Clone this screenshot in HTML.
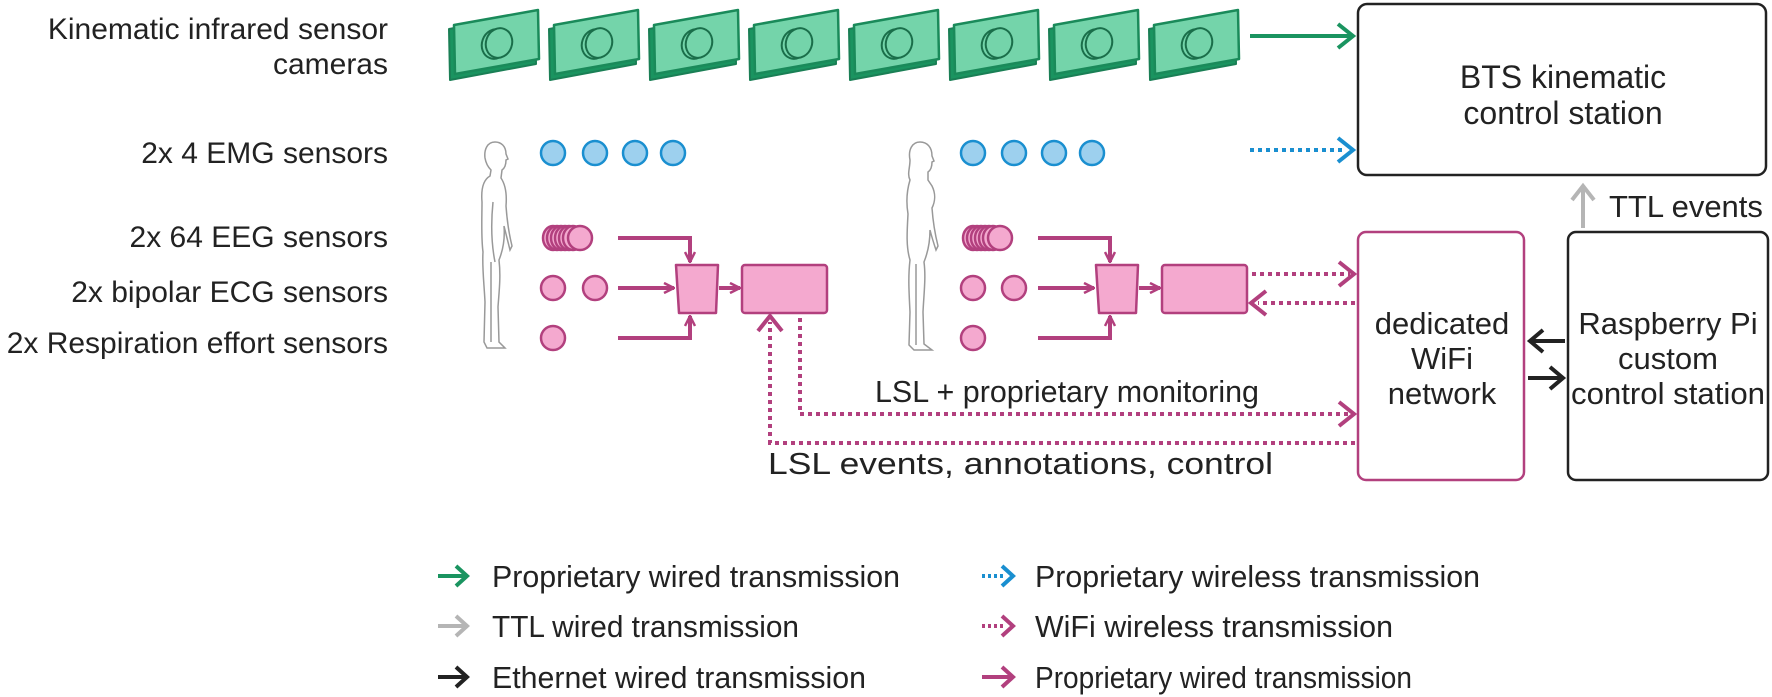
<!DOCTYPE html>
<html><head><meta charset="utf-8"><style>
html,body{margin:0;padding:0;background:#fff;}
svg{display:block;}
text{font-family:"Liberation Sans",Arial,sans-serif;fill:#222;}
</style></head><body>
<svg width="1772" height="697" viewBox="0 0 1772 697" xmlns="http://www.w3.org/2000/svg">
<defs>
<g id="cam">
  <path d="M1,29 L87,13 L88,64 L2,80 Z" fill="#1a9460" stroke="#1a7f55" stroke-width="2" stroke-linejoin="round"/>
  <path d="M6,25 L90,10 L91,59 L7,74 Z" fill="#74d4aa" stroke="#1a8a5a" stroke-width="2.5" stroke-linejoin="round"/>
  <ellipse cx="47" cy="44" rx="13" ry="15" fill="#74d4aa" stroke="#1a6e4a" stroke-width="2" transform="rotate(20 47 44)"/>
  <ellipse cx="51" cy="43" rx="13" ry="15" fill="#74d4aa" stroke="#1a6e4a" stroke-width="2" transform="rotate(20 51 43)"/>
</g>
<g id="man" fill="none" stroke="#999" stroke-width="1.5">
  <path d="M18,0 C10,0 7,8 8,16 C9,22 12,26 14,28 L13,34 C6,38 4,48 5,60 C5,75 4,95 6,110 C5,125 7,140 8,160 L7,200 L10,206 L28,206 L22,200 L21,165 C22,150 24,135 22,118 C26,108 28,96 27,84 C29,92 31,100 33,108 L35,104 C32,92 30,78 29,64 C30,52 28,42 24,36 L25,28 C28,26 29,22 29,18 L31,17 L29,12 C29,4 24,0 18,0 Z"/>
  <path d="M14,120 L14,200 M16,60 C14,80 14,100 18,120"/>
</g>
<g id="woman" fill="none" stroke="#999" stroke-width="1.5">
  <path d="M18,0 C10,0 6,8 8,18 C8,26 5,32 8,38 C5,48 4,60 6,72 C5,90 4,105 8,118 C6,135 7,150 8,170 L7,203 L12,208 L30,208 L22,202 L21,170 C22,150 24,135 22,120 C26,110 28,98 28,88 C30,96 32,102 34,108 L36,104 C33,92 31,80 30,66 C33,60 34,52 30,44 L26,38 L26,30 C29,28 30,24 30,20 L32,19 L30,14 C30,5 25,0 18,0 Z"/>
  <path d="M14,122 L14,203"/>
</g>
<marker id="ap" viewBox="0 0 12 12" refX="11" refY="6" markerWidth="12" markerHeight="12" markerUnits="userSpaceOnUse" orient="auto"><path d="M1,1 L11,6 L1,11" fill="none" stroke="#b2407e" stroke-width="2.5"/></marker>
</defs>

<!-- left labels -->
<g font-size="30" text-anchor="end">
<text x="388" y="39">Kinematic infrared sensor</text>
<text x="388" y="74">cameras</text>
<text x="388" y="163">2x 4 EMG sensors</text>
<text x="388" y="247">2x 64 EEG sensors</text>
<text x="388" y="302">2x bipolar ECG sensors</text>
<text x="388" y="353">2x Respiration effort sensors</text>
</g>

<!-- cameras -->
<use href="#cam" x="448" y="0"/><use href="#cam" x="548" y="0"/><use href="#cam" x="648" y="0"/><use href="#cam" x="748" y="0"/>
<use href="#cam" x="848" y="0"/><use href="#cam" x="948" y="0"/><use href="#cam" x="1048" y="0"/><use href="#cam" x="1148" y="0"/>

<!-- green arrow -->
<line x1="1250" y1="36" x2="1352" y2="36" stroke="#1a9460" stroke-width="4"/>
<path d="M1338,24 L1353,36 L1338,48" fill="none" stroke="#1a9460" stroke-width="4"/>
<!-- blue dotted -->
<line x1="1250" y1="150" x2="1345" y2="150" stroke="#1a8fd0" stroke-width="4" stroke-dasharray="4,4"/>
<path d="M1338,138 L1353,150 L1338,162" fill="none" stroke="#1a8fd0" stroke-width="4"/>

<!-- BTS box -->
<rect x="1358" y="4" width="408" height="171" rx="9" fill="#fff" stroke="#222" stroke-width="2.5"/>
<text x="1563" y="88" font-size="32" text-anchor="middle">BTS kinematic</text>
<text x="1563" y="124" font-size="32" text-anchor="middle">control station</text>

<!-- TTL -->
<line x1="1583" y1="228" x2="1583" y2="188" stroke="#b5b5b5" stroke-width="4"/>
<path d="M1572,200 L1583,186 L1594,200" fill="none" stroke="#b5b5b5" stroke-width="4"/>
<text x="1609" y="217" font-size="31">TTL events</text>

<!-- WiFi box -->
<rect x="1358" y="232" width="166" height="248" rx="8" fill="#fff" stroke="#b2407e" stroke-width="2.5"/>
<g font-size="31" text-anchor="middle">
<text x="1442" y="334">dedicated</text><text x="1442" y="369">WiFi</text><text x="1442" y="404">network</text>
</g>
<!-- Raspberry -->
<rect x="1568" y="232" width="200" height="248" rx="8" fill="#fff" stroke="#222" stroke-width="2.5"/>
<g font-size="31" text-anchor="middle">
<text x="1668" y="334">Raspberry Pi</text><text x="1668" y="369">custom</text><text x="1668" y="404" textLength="194" lengthAdjust="spacingAndGlyphs">control station</text>
</g>
<!-- ethernet arrows -->
<line x1="1531" y1="341" x2="1565" y2="341" stroke="#222" stroke-width="4"/>
<path d="M1543,330 L1530,341 L1543,352" fill="none" stroke="#222" stroke-width="4"/>
<line x1="1528" y1="378" x2="1562" y2="378" stroke="#222" stroke-width="4"/>
<path d="M1550,367 L1563,378 L1550,389" fill="none" stroke="#222" stroke-width="4"/>

<!-- persons -->
<use href="#man" x="477" y="142"/>
<use href="#woman" x="902" y="142"/>

<!-- sensor dots -->
<g fill="#9dd0ee" stroke="#1a8fd0" stroke-width="2.5">
<circle cx="553" cy="153" r="12"/><circle cx="595" cy="153" r="12"/><circle cx="635" cy="153" r="12"/><circle cx="673" cy="153" r="12"/>
<circle cx="973" cy="153" r="12"/><circle cx="1014" cy="153" r="12"/><circle cx="1054" cy="153" r="12"/><circle cx="1092" cy="153" r="12"/>
</g>
<g fill="#f4a9cf" stroke="#b2407e" stroke-width="2.5">
<g id="pill1">
<ellipse cx="553" cy="238" rx="10" ry="12"/><ellipse cx="557" cy="238" rx="10" ry="12"/><ellipse cx="561" cy="238" rx="10" ry="12"/><ellipse cx="565" cy="238" rx="10" ry="12"/><ellipse cx="569" cy="238" rx="10" ry="12"/><ellipse cx="573" cy="238" rx="10" ry="12"/><ellipse cx="580" cy="238" rx="12" ry="12"/>
</g>
<use href="#pill1" x="420" y="0"/>
<circle cx="553" cy="288" r="12"/><circle cx="595" cy="288" r="12"/><circle cx="553" cy="338" r="12"/>
<circle cx="973" cy="288" r="12"/><circle cx="1014" cy="288" r="12"/><circle cx="973" cy="338" r="12"/>
<path d="M676,265 L718,265 L716,313 L679,313 Z" stroke-linejoin="round"/>
<rect x="742" y="265" width="85" height="48" rx="3"/>
<path d="M1096,265 L1138,265 L1136,313 L1099,313 Z" stroke-linejoin="round"/>
<rect x="1162" y="265" width="85" height="48" rx="3"/>
</g>

<!-- solid magenta arrows -->
<g fill="none" stroke="#b2407e" stroke-width="4" marker-end="url(#ap)">
<path d="M618,238 L690,238 L690,262"/>
<path d="M618,288 L674,288"/>
<path d="M618,338 L690,338 L690,316"/>
<path d="M719,288 L740,288"/>
<path d="M1038,238 L1110,238 L1110,262"/>
<path d="M1038,288 L1094,288"/>
<path d="M1038,338 L1110,338 L1110,316"/>
<path d="M1139,288 L1160,288"/>
</g>

<!-- dotted magenta -->
<g fill="none" stroke="#b2407e" stroke-width="4" stroke-dasharray="4,4">
<path d="M1252,274 L1350,274"/>
<path d="M1355,303 L1258,303"/>
<path d="M800,318 L800,414 L1350,414"/>
<path d="M1355,443 L770,443 L770,322"/>
</g>
<g fill="none" stroke="#b2407e" stroke-width="4">
<path d="M1339,262 L1354,274 L1339,286"/>
<path d="M1266,291 L1251,303 L1266,315"/>
<path d="M1339,402 L1354,414 L1339,426"/>
<path d="M758,331 L770,316 L782,331"/>
</g>
<text x="875" y="402" font-size="31" textLength="384" lengthAdjust="spacingAndGlyphs">LSL + proprietary monitoring</text>
<text x="768" y="474" font-size="31" textLength="505" lengthAdjust="spacingAndGlyphs">LSL events, annotations, control</text>

<!-- legend -->
<g stroke-width="4" fill="none">
<line x1="438" y1="576" x2="466" y2="576" stroke="#1a9460"/><path d="M456,566 L467,576 L456,586" stroke="#1a9460"/>
<line x1="438" y1="626" x2="466" y2="626" stroke="#b5b5b5"/><path d="M456,616 L467,626 L456,636" stroke="#b5b5b5"/>
<line x1="438" y1="677" x2="466" y2="677" stroke="#222"/><path d="M456,667 L467,677 L456,687" stroke="#222"/>
<line x1="982" y1="576" x2="1004" y2="576" stroke="#1a8fd0" stroke-dasharray="3,3"/><path d="M1002,566 L1013,576 L1002,586" stroke="#1a8fd0"/>
<line x1="982" y1="626" x2="1004" y2="626" stroke="#b2407e" stroke-dasharray="3,3"/><path d="M1002,616 L1013,626 L1002,636" stroke="#b2407e"/>
<line x1="982" y1="677" x2="1010" y2="677" stroke="#b2407e"/><path d="M1002,667 L1013,677 L1002,687" stroke="#b2407e"/>
</g>
<g font-size="31">
<text x="492" y="587" textLength="408" lengthAdjust="spacingAndGlyphs">Proprietary wired transmission</text>
<text x="492" y="637" textLength="307" lengthAdjust="spacingAndGlyphs">TTL wired transmission</text>
<text x="492" y="688" textLength="374" lengthAdjust="spacingAndGlyphs">Ethernet wired transmission</text>
<text x="1035" y="587" textLength="445" lengthAdjust="spacingAndGlyphs">Proprietary wireless transmission</text>
<text x="1035" y="637" textLength="358" lengthAdjust="spacingAndGlyphs">WiFi wireless transmission</text>
<text x="1035" y="688" textLength="377" lengthAdjust="spacingAndGlyphs">Proprietary wired transmission</text>
</g>
</svg>
</body></html>
